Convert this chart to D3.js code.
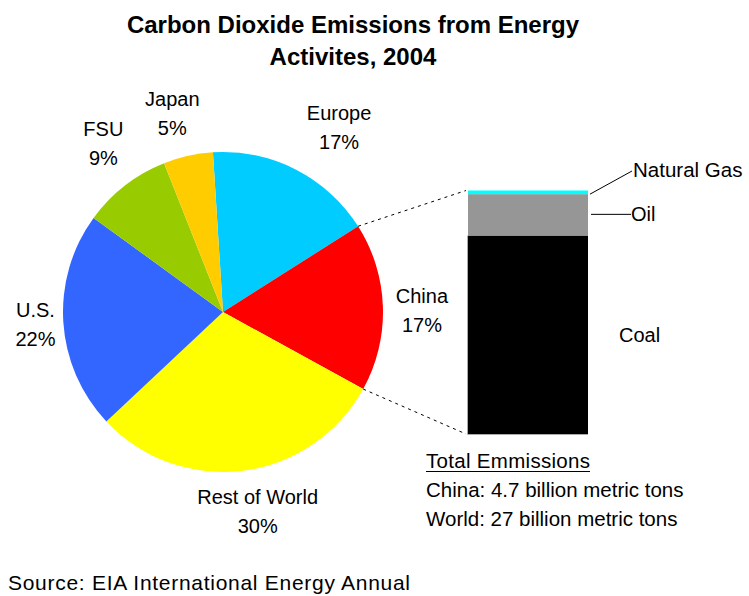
<!DOCTYPE html>
<html>
<head>
<meta charset="utf-8">
<script src="https://cdn.jsdelivr.net/npm/d3@7"></script>
<style>
  body { margin: 0; background: #fff; }
  text { font-family: "Liberation Sans", Arial, sans-serif; fill: #000; }
</style>
</head>
<body>
<div id="chart"></div>
<script>
// DATA
const regions = ['Europe', 'China', 'Rest of World', 'U.S.', 'FSU', 'Japan'];
const shares = [17, 17, 30, 22, 9, 5];
const regionColors = ['#00ccff', '#ff0000', '#ffff00', '#3366ff', '#99cc00', '#ffcc00'];

const fuels = ['Coal', 'Oil', 'Natural Gas'];
const fuelShares = [81.5, 17, 1.5];
const fuelColors = ['#000000', '#969696', '#00ffff'];

const totalsTitle = 'Total Emmissions';
const totals = ['China: 4.7 billion metric tons', 'World: 27 billion metric tons'];

// VIZ DIMENSIONS + MOUNTING
const width = 749;
const height = 596;
const cx = 223, cy = 312, radius = 160;

let svg = d3.select('#chart').append('svg')
  .attr('width', width)
  .attr('height', height);

// title
const title = svg.append('text')
  .attr('text-anchor', 'middle')
  .style('font-size', '24px')
  .style('font-weight', 'bold');
title.append('tspan').attr('x', 353).attr('y', 33).text('Carbon Dioxide Emissions from Energy');
title.append('tspan').attr('x', 353).attr('y', 65).text('Activites, 2004');

// PIE
const startA = -3.6 * Math.PI / 180;
const pie = d3.pie().sort(null).value(d => d.v)
  .startAngle(startA).endAngle(startA + 2 * Math.PI);
const arcs = pie(regions.map((r, i) => ({ name: r, v: shares[i], color: regionColors[i] })));
const arc = d3.arc().innerRadius(0).outerRadius(radius);

let pieG = svg.append('g').attr('transform', `translate(${cx}, ${cy})`);
pieG.selectAll('path')
  .data(arcs)
  .enter()
  .append('path')
  .attr('d', arc)
  .style('fill', d => d.data.color);

// labels, placed round a label ring then nudged
const labelArc = d3.arc().innerRadius(205).outerRadius(205);
const nudge = {
  'Europe': [23, 5], 'China': [-6, 11], 'Rest of World': [9, 3],
  'U.S.': [17, 6], 'FSU': [6, 0], 'Japan': [-6, 8]
};
let lab = pieG.selectAll('text.lab')
  .data(arcs)
  .enter()
  .append('text')
  .attr('class', 'lab')
  .attr('text-anchor', 'middle')
  .style('font-size', '20px')
  .attr('transform', d => {
    const c = labelArc.centroid(d);
    const n = nudge[d.data.name];
    return `translate(${c[0] + n[0]}, ${c[1] + n[1]})`;
  });
lab.append('tspan').attr('x', 0).attr('y', -14).text(d => d.data.name);
lab.append('tspan').attr('x', 0).attr('y', 15).text(d => d.data.v + '%');

// STACKED BAR FOR CHINA
const barX = 468, barW = 120;
const y = d3.scaleLinear().domain([0, 100]).range([434, 190.5]);
let acc = 0;
const stack = fuels.map((f, i) => {
  const s = { name: f, y0: acc, y1: acc + fuelShares[i], color: fuelColors[i] };
  acc += fuelShares[i];
  return s;
});

let bar = svg.append('g');
bar.selectAll('rect')
  .data(stack)
  .enter()
  .append('rect')
  .attr('x', barX)
  .attr('width', barW)
  .attr('y', d => y(d.y1))
  .attr('height', d => y(d.y0) - y(d.y1))
  .style('fill', d => d.color);
bar.append('path')
  .attr('d', `M${barX - 0.5},${y(stack[0].y1)} V${y(0) + 0.5} H${barX + barW}`)
  .style('fill', 'none')
  .style('stroke', '#aaaaaa')
  .style('stroke-width', 1);

// dashed lines from the China slice to the bar
const china = arcs.find(d => d.data.name === 'China');
const edge = a => [cx + radius * Math.sin(a), cy - radius * Math.cos(a)];
const pTop = edge(china.startAngle), pBot = edge(china.endAngle);
svg.append('line')
  .attr('x1', pTop[0]).attr('y1', pTop[1])
  .attr('x2', barX - 2).attr('y2', y(100))
  .style('stroke', '#000').style('stroke-dasharray', '3,4');
svg.append('line')
  .attr('x1', pBot[0]).attr('y1', pBot[1])
  .attr('x2', barX - 2).attr('y2', y(0))
  .style('stroke', '#000').style('stroke-dasharray', '3,4');

// fuel labels
const gas = stack[2], oil = stack[1], coal = stack[0];
svg.append('line')
  .attr('x1', barX + barW + 2).attr('y1', y(gas.y0))
  .attr('x2', 632).attr('y2', 171)
  .style('stroke', '#000');
svg.append('text').attr('x', 633).attr('y', 177).style('font-size', '20.5px').text(gas.name);

const oilY = y((oil.y0 + oil.y1) / 2) - 0.5;
svg.append('line')
  .attr('x1', barX + barW + 3).attr('y1', oilY)
  .attr('x2', 631).attr('y2', oilY)
  .style('stroke', '#000');
svg.append('text').attr('x', 631).attr('y', oilY + 7).style('font-size', '20px').text(oil.name);

svg.append('text').attr('x', 619).attr('y', 342).style('font-size', '20px').text(coal.name);

// totals
svg.append('text').attr('x', 426).attr('y', 468).style('font-size', '20.5px')
  .attr('textLength', 164).text(totalsTitle);
svg.append('line')
  .attr('x1', 426).attr('x2', 590)
  .attr('y1', 471.5).attr('y2', 471.5)
  .style('stroke', '#000');
svg.selectAll('text.tot')
  .data(totals)
  .enter()
  .append('text')
  .attr('class', 'tot')
  .attr('x', 426)
  .attr('y', (d, i) => 497 + i * 29)
  .style('font-size', '20.5px')
  .text(d => d);

// source
svg.append('text').attr('x', 8).attr('y', 590).style('font-size', '21px')
  .attr('textLength', 402)
  .text('Source: EIA International Energy Annual');
</script>
</body>
</html>
